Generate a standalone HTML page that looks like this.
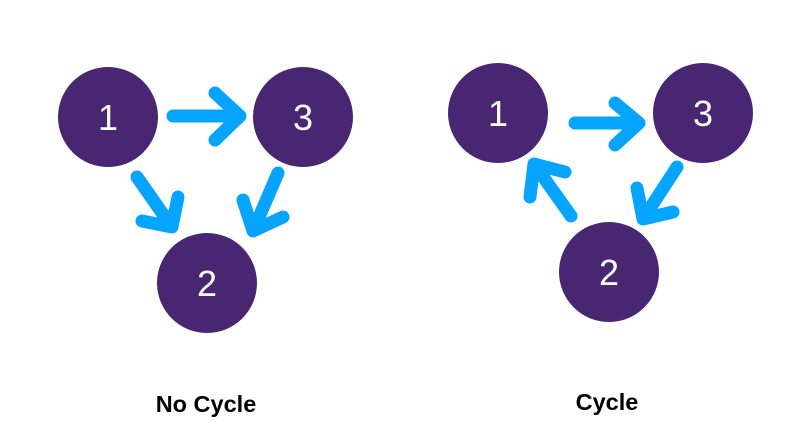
<!DOCTYPE html>
<html><head><meta charset="utf-8"><style>
html,body{margin:0;padding:0;background:#fff;width:804px;height:433px;overflow:hidden}
svg{display:block}
text{font-family:"Liberation Sans",sans-serif}
</style></head><body>
<svg width="804" height="433" viewBox="0 0 804 433">
<g fill="none" stroke="#05a5ff" stroke-width="13" stroke-linecap="round" stroke-linejoin="round">
<g><path d="M173 116 L240 116 M215 93 L240 116 L215 140"/></g>
<g><path d="M137 177 L172 227 M178 197 L172 227 L142 221"/></g>
<g><path d="M278 173 L253 231 M243 200 L253 231 L283 217"/></g>
<g><path d="M575 123 L639 123 M615 103 L639 123 L615 145"/></g>
<g><path d="M677 167 L643 219 M637 188 L643 219 L673 212"/></g>
<g><path d="M571 216 L534 164 M565 172 L534 164 L530 197"/></g>
</g>
<g fill="#482672">
<circle cx="108" cy="117" r="50"/>
<circle cx="303" cy="117" r="50"/>
<circle cx="207" cy="283" r="50"/>
<circle cx="498" cy="113" r="50"/>
<circle cx="703" cy="113" r="50"/>
<circle cx="609" cy="272" r="50"/>
</g>
<g fill="#fff" font-size="36" text-anchor="middle">
<text x="108" y="130">1</text>
<text x="303" y="130">3</text>
<text x="207" y="296">2</text>
<text x="498" y="126">1</text>
<text x="703" y="126">3</text>
<text x="609" y="285">2</text>
</g>
<g fill="#000" font-size="23.5" font-weight="bold" text-anchor="middle">
<text x="206" y="412">No Cycle</text>
<text x="607" y="410">Cycle</text>
</g>
</svg>
</body></html>
